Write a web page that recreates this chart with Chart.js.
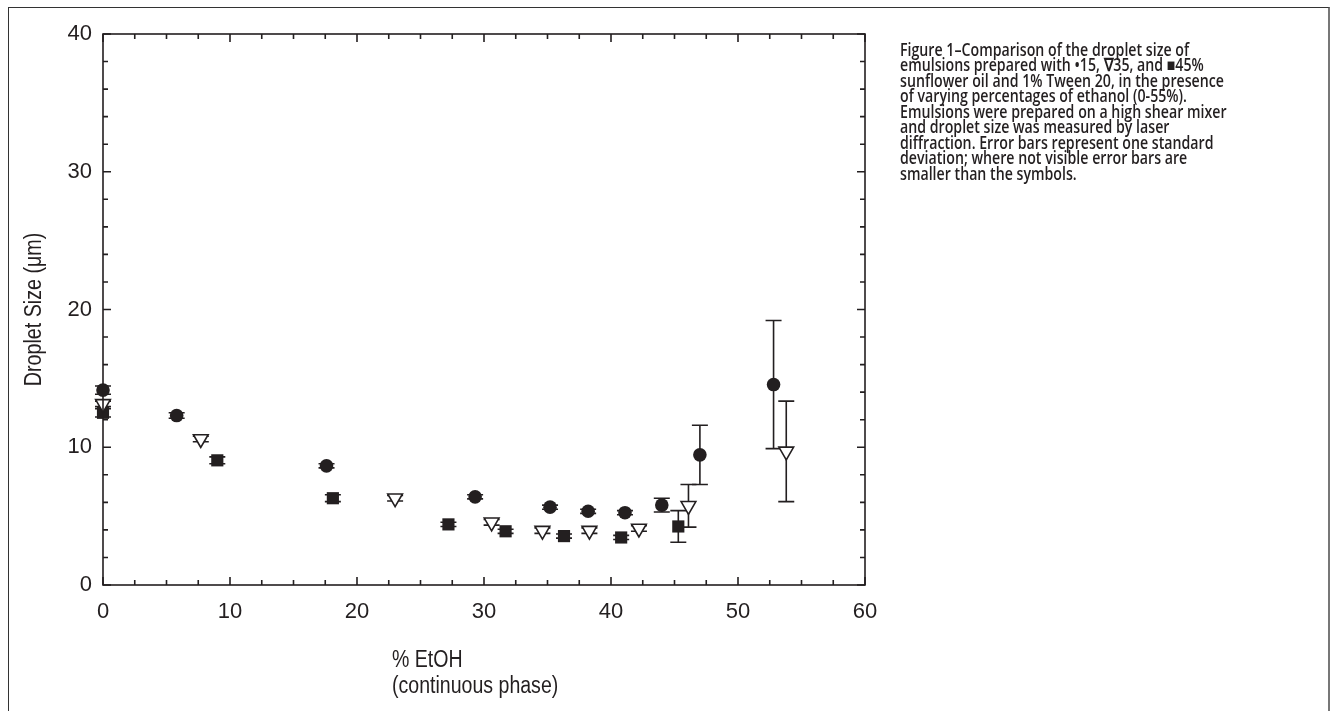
<!DOCTYPE html>
<html>
<head>
<meta charset="utf-8">
<script src="https://cdn.jsdelivr.net/npm/chart.js@4/dist/chart.umd.min.js"></script>
<style>
  body { margin: 0; background: #fff; }
  #frame { position: absolute; left: 8px; top: 7px; width: 1322px; height: 720px; border: 1.5px solid #333; border-bottom: none; border-right: 2px solid #777; box-sizing: border-box; }
  #wrap { position: absolute; left: 0; top: 0; width: 1330px; height: 711px; }
  #caption { position: absolute; left: 900px; top: 42px; width: 520px; font-family: 'Open Sans', 'Noto Sans', sans-serif; font-weight: 600; font-size: 17.5px; line-height: 15.45px; color: #231f20; white-space: nowrap; transform: scaleX(0.81); transform-origin: left top; }
</style>
</head>
<body>
<div id="frame"></div>
<div id="wrap"><canvas id="chart" width="1330" height="711"></canvas></div>
<div id="caption">Figure 1–Comparison of the droplet size of<br>emulsions prepared with •15, ∇35, and ■45%<br>sunflower oil and 1% Tween 20, in the presence<br>of varying percentages of ethanol (0-55%).<br>Emulsions were prepared on a high shear mixer<br>and droplet size was measured by laser<br>diffraction. Error bars represent one standard<br>deviation; where not visible error bars are<br>smaller than the symbols.</div>
<script>
// 15% oil (filled circles)
var oil15X = [0, 5.8, 17.6, 29.3, 35.2, 38.2, 41.1, 44.0, 47.0, 52.8];
var oil15Y = [14.15, 12.3, 8.65, 6.4, 5.65, 5.35, 5.25, 5.8, 9.45, 14.55];
var oil15Err = [0.3, 0.2, 0.15, 0.15, 0.15, 0.15, 0.15, 0.5, 2.15, 4.65];

// 35% oil (open triangles)
var oil35X = [0, 7.7, 23.0, 30.6, 34.6, 38.3, 42.2, 46.1, 53.8];
var oil35Y = [13.15, 10.6, 6.3, 4.55, 3.95, 3.95, 4.1, 5.75, 9.7];
var oil35Err = [0.2, 0.2, 0.2, 0.2, 0.2, 0.2, 0.2, 1.55, 3.65];

// 45% oil (filled squares)
var oil45X = [0, 9.0, 18.1, 27.2, 31.7, 36.3, 40.8, 45.3];
var oil45Y = [12.5, 9.05, 6.3, 4.4, 3.9, 3.55, 3.45, 4.25];
var oil45Err = [0.3, 0.25, 0.25, 0.15, 0.15, 0.15, 0.15, 1.15];

var xTickStep = 10;
var yTickStep = 10;
var xTitle = ['% EtOH', '(continuous phase)'];
var yTitle = 'Droplet Size (μm)';

var ink = '#231f20';
var axisFont = "'Liberation Sans', Arial, sans-serif";
Chart.defaults.color = ink;

function pts(xs, ys) {
    return xs.map(function (x, i) { return { x: x, y: ys[i] }; });
}

var series = [
    { x: oil15X, y: oil15Y, err: oil15Err },
    { x: oil35X, y: oil35Y, err: oil35Err },
    { x: oil45X, y: oil45Y, err: oil45Err }
];

// error bars, drawn under the symbols
var errorBars = {
    id: 'errorBars',
    beforeDatasetsDraw: function (chart) {
        var ctx = chart.ctx, xs = chart.scales.x, ys = chart.scales.y;
        ctx.save();
        ctx.strokeStyle = ink;
        ctx.lineWidth = 1.6;
        series.forEach(function (s) {
            s.x.forEach(function (xv, i) {
                var px = xs.getPixelForValue(xv);
                var top = ys.getPixelForValue(s.y[i] + s.err[i]);
                var bot = ys.getPixelForValue(s.y[i] - s.err[i]);
                ctx.beginPath();
                ctx.moveTo(px, top); ctx.lineTo(px, bot);
                ctx.moveTo(px - 8, top); ctx.lineTo(px + 8, top);
                ctx.moveTo(px - 8, bot); ctx.lineTo(px + 8, bot);
                ctx.stroke();
            });
        });
        ctx.restore();
    }
};

// boxed frame with inward ticks on all four sides, plus the narrow axis titles
var frame = {
    id: 'frame',
    afterDraw: function (chart) {
        var ctx = chart.ctx, a = chart.chartArea, xs = chart.scales.x, ys = chart.scales.y;
        ctx.save();
        ctx.strokeStyle = ink;
        ctx.lineWidth = 1.6;
        ctx.strokeRect(a.left, a.top, a.right - a.left, a.bottom - a.top);
        ctx.beginPath();
        for (var v = 0; v <= 60; v += 2.5) {
            var px = xs.getPixelForValue(v);
            var len = v % 10 === 0 ? 8 : 5;
            ctx.moveTo(px, a.bottom); ctx.lineTo(px, a.bottom - len);
            ctx.moveTo(px, a.top); ctx.lineTo(px, a.top + len);
        }
        for (var w = 0; w <= 40; w += 2) {
            var py = ys.getPixelForValue(w);
            var l2 = w % 10 === 0 ? 8 : 5;
            ctx.moveTo(a.left, py); ctx.lineTo(a.left + l2, py);
            ctx.moveTo(a.right, py); ctx.lineTo(a.right - l2, py);
        }
        ctx.stroke();

        ctx.fillStyle = ink;
        ctx.font = '23px ' + axisFont;
        ctx.textBaseline = 'middle';

        // x title, two left-aligned lines, slightly condensed
        ctx.save();
        ctx.translate(a.left + 289, 0);
        ctx.scale(0.85, 1);
        ctx.textAlign = 'left';
        ctx.fillText(xTitle[0], 0, 661);
        ctx.fillText(xTitle[1], 0, 687);
        ctx.restore();

        // y title, rotated and centred on the plot
        ctx.save();
        ctx.translate(35, (a.top + a.bottom) / 2);
        ctx.rotate(-Math.PI / 2);
        ctx.scale(0.856, 1);
        ctx.textAlign = 'center';
        ctx.fillText(yTitle, 0, 0);
        ctx.restore();

        ctx.restore();
    }
};

new Chart(document.getElementById('chart'), {
    type: 'scatter',
    data: {
        datasets: [{
            label: '15',
            data: pts(oil15X, oil15Y),
            pointStyle: 'circle',
            pointRadius: 6.8,
            backgroundColor: ink,
            borderColor: ink,
            borderWidth: 0,
            clip: false
        }, {
            label: '35',
            data: pts(oil35X, oil35Y),
            pointStyle: 'triangle',
            rotation: 180,
            pointRadius: 8.5,
            backgroundColor: '#fff',
            borderColor: ink,
            borderWidth: 1.6,
            clip: false
        }, {
            label: '45',
            data: pts(oil45X, oil45Y),
            pointStyle: 'rect',
            pointRadius: 8.6,
            backgroundColor: ink,
            borderColor: ink,
            borderWidth: 0,
            clip: false
        }]
    },
    options: {
        responsive: false,
        animation: false,
        events: [],
        layout: { padding: { left: 0, top: 34, right: 465, bottom: 0 } },
        plugins: { legend: { display: false }, tooltip: { enabled: false } },
        scales: {
            x: {
                type: 'linear',
                min: 0, max: 60,
                grid: { display: false, drawTicks: false },
                border: { display: false },
                ticks: { stepSize: xTickStep, padding: 14, font: { size: 22, family: axisFont } },
                afterFit: function (s) { s.height = 126; }
            },
            y: {
                min: 0, max: 40,
                grid: { display: false, drawTicks: false },
                border: { display: false },
                ticks: { stepSize: yTickStep, padding: 11, font: { size: 22, family: axisFont } },
                afterFit: function (s) { s.width = 103; }
            }
        }
    },
    plugins: [errorBars, frame]
});
</script>
</body>
</html>
